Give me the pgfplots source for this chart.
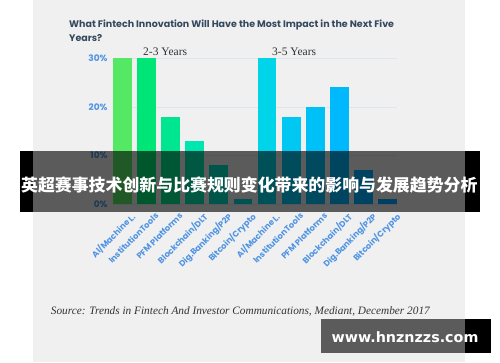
\documentclass[border=0pt]{standalone}
\usepackage{fontspec}
\setmainfont{Poppins}
\newfontfamily\serifb{Liberation Serif}
\newfontfamily\cjk{Noto Sans CJK SC}
\newfontfamily\dejavu{DejaVu Sans}
\usepackage{pgfplots}
\pgfplotsset{compat=1.18}
\definecolor{card}{HTML}{F0F0F0}
\definecolor{titlec}{HTML}{34495E}
\definecolor{tickc}{HTML}{4F94E4}
\definecolor{gridc}{HTML}{DCE5F0}
\definecolor{darkg}{HTML}{333333}
\definecolor{c1}{HTML}{55E865}
\definecolor{c2}{HTML}{00E676}
\definecolor{c3}{HTML}{00E690}
\definecolor{c4}{HTML}{00E6B0}
\definecolor{c5}{HTML}{00E0C6}
\definecolor{c6}{HTML}{00DADA}
\definecolor{c7}{HTML}{00D4E8}
\definecolor{c8}{HTML}{00C8F2}
\definecolor{c9}{HTML}{00C0F8}
\definecolor{c10}{HTML}{00B8FC}
\definecolor{c11}{HTML}{00B0FF}
\definecolor{c12}{HTML}{00A6FF}
\begin{document}
\begin{tikzpicture}[x=1bp,y=1bp]
\fill[white] (0,0) rectangle (500,362);
\fill[card] (33,0) rectangle (465,362);
\node[anchor=base west, inner sep=0, text=titlec, font=\bfseries\fontsize{9.5bp}{11bp}\selectfont] at (69,334.5) {What Fintech Innovation Will Have the Most Impact in the Next Five};
\node[anchor=base west, inner sep=0, text=titlec, font=\bfseries\fontsize{9.5bp}{11bp}\selectfont] at (69,320.5) {Years?};
\node[anchor=base west, inner sep=0, text=darkg, font=\serifb\fontsize{11.5bp}{13bp}\selectfont] at (143,307) {2-3 Years};
\node[anchor=base west, inner sep=0, text=darkg, font=\serifb\fontsize{11.5bp}{13bp}\selectfont] at (272,307) {3-5 Years};
\begin{axis}[
  at={(113bp,158bp)}, anchor=south west, scale only axis,
  width=284bp, height=145.7bp,
  xmin=-0.39, xmax=11.39, ymin=0, ymax=30,
  axis line style={draw=none},
  ytick={0,10,20,30}, yticklabels={0\%,10\%,20\%,30\%},
  ymajorgrids, grid style={gridc, line width=0.6bp},
  major tick length=0,
  xtick={0,...,11},
  xticklabels={AI/Machine L.,InstitutionTools,PFM Platforms,Blockchain/DLT,Dig.Banking/P2P,Bitcoin/Crypto,AI/Machine L.,InstitutionTools,PFM Platforms,Blockchain/DLT,Dig.Banking/P2P,Bitcoin/Crypto},
  yticklabel style={text=tickc, font=\bfseries\fontsize{9bp}{10bp}\selectfont, anchor=east, xshift=-2bp},
  xticklabel style={text=tickc, font=\bfseries\fontsize{8.3bp}{9bp}\selectfont, xshift=8bp, yshift=-3bp, rotate=45, anchor=north east},
  clip=false,
  every axis plot/.append style={ybar, bar width=0.78, bar shift=0pt, draw=none},
]
\addplot[fill=c1] coordinates {(0,30)};
\addplot[fill=c2] coordinates {(1,30)};
\addplot[fill=c3] coordinates {(2,18)};
\addplot[fill=c4] coordinates {(3,13)};
\addplot[fill=c5] coordinates {(4,8)};
\addplot[fill=c6] coordinates {(5,1)};
\addplot[fill=c7] coordinates {(6,30)};
\addplot[fill=c8] coordinates {(7,18)};
\addplot[fill=c9] coordinates {(8,20)};
\addplot[fill=c10] coordinates {(9,24)};
\addplot[fill=c11] coordinates {(10,7)};
\addplot[fill=c12] coordinates {(11,1)};
\end{axis}
\fill[black] (20,150) rectangle (33,211);
\fill[black] (465,150) rectangle (480,211);
\fill[black, opacity=0.62] (33,150) rectangle (465,211);
\node[text=white, inner sep=0, font=\cjk\bfseries\fontsize{16.9bp}{18bp}\selectfont] at (249.3,177) {英超赛事技术创新与比赛规则变化带来的影响与发展趋势分析};
\node[anchor=base west, inner sep=0, text=darkg, font=\serifb\itshape\fontsize{11.3bp}{13bp}\selectfont] at (50.7,47.7) {Source: Trends in Fintech And Investor Communications, Mediant, December 2017};
\fill[black, opacity=0.62] (321,9.3) rectangle (465,43);
\fill[black] (465,9.3) rectangle (491,43);
\node[text=white, inner sep=0, font=\dejavu\bfseries\fontsize{14.3bp}{16bp}\selectfont] at (405,25.3) {www.hnznzzs.com};
\end{tikzpicture}
\end{document}
